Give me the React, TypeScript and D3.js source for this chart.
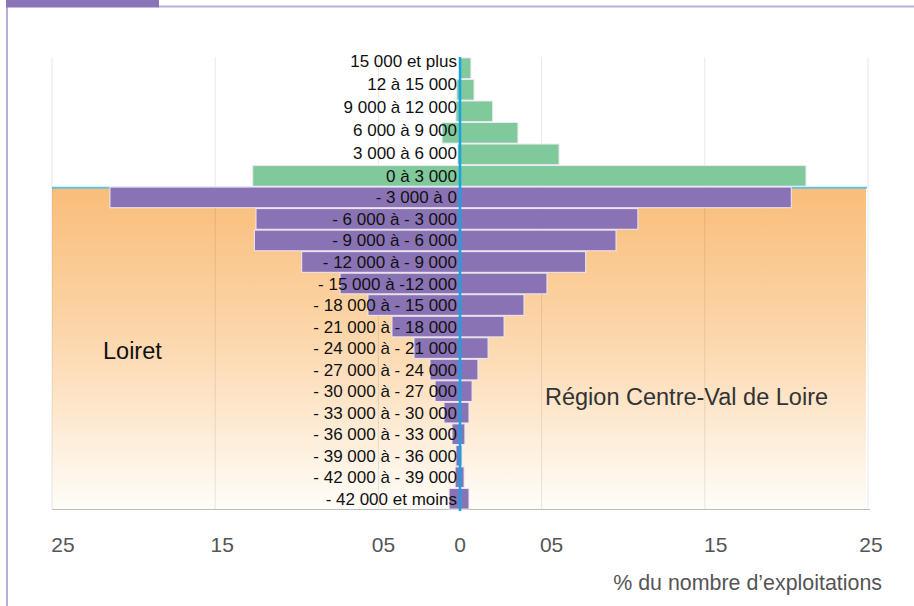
import React from "react";
import * as d3 from "d3";

const categories = [
  "15 000 et plus", "12 à 15 000", "9 000 à 12 000", "6 000 à 9 000", "3 000 à 6 000", "0 à 3 000",
  "- 3 000 à 0", "- 6 000 à - 3 000", "- 9 000 à - 6 000", "- 12 000 à - 9 000", "- 15 000 à -12 000",
  "- 18 000 à - 15 000", "- 21 000 à - 18 000", "- 24 000 à - 21 000", "- 27 000 à - 24 000",
  "- 30 000 à - 27 000", "- 33 000 à - 30 000", "- 36 000 à - 33 000", "- 39 000 à - 36 000",
  "- 42 000 à - 39 000", "- 42 000 et moins",
];
const loiret = [0, 0.2, 0.25, 1.1, 0.15, 12.7, 21.45, 12.5, 12.6, 9.7, 7.35, 5.64, 4.17, 2.82, 1.84, 1.53, 0.98, 0.49, 0.25, 0.3, 0.67];
const region = [0.67, 0.86, 2.0, 3.55, 6.07, 21.2, 20.3, 10.9, 9.56, 7.7, 5.33, 3.92, 2.7, 1.72, 1.1, 0.74, 0.55, 0.3, 0.12, 0.25, 0.55];
const positiveCount = 6;
const gridValues = [-25, -15, -5, 5, 15, 25];
const tickValues = [-25, -15, -5, 0, 5, 15, 25];
const tickLabels = ["25", "15", "05", "0", "05", "15", "25"];
const tickNudge = [11, 7, 5, 0, 10, 11, 3];

const W = 914, H = 606;
const GREEN = "#80c99b", PURPLE = "#8a73b4";

export default function App() {
  const x = d3.scaleLinear().domain([-25, 25]).range([52, 868]);
  const y = d3.scaleBand<string>().domain(categories).range([57.5, 509.5]).paddingInner(0.04).paddingOuter(0.02);
  const step = y.step();
  const negTop = (y(categories[positiveCount]) as number) - (step - y.bandwidth()) / 2 + 1;
  const x0 = x(0);
  const font = "'Liberation Sans', Arial, Helvetica, sans-serif";

  // label layout: positive categories are set on a slightly looser rhythm than the bars
  const posCats = categories.slice(0, positiveCount);
  const negCats = categories.slice(positiveCount);
  const lastPosCenter = (y(posCats[positiveCount - 1]) as number) + y.bandwidth() / 2;
  const labelPos = d3.scalePoint<string>().domain(posCats).range([lastPosCenter - 23 * (positiveCount - 1), lastPosCenter]);
  const labelY = (c: string, i: number) =>
    i < positiveCount ? (labelPos(c) as number) : (y(c) as number) + y.bandwidth() / 2;

  return (
    <svg width={W} height={H} style={{ position: "absolute", left: 0, top: 0, background: "#fff" }} fontFamily={font}>
      <defs>
        <linearGradient id="og" x1="0" y1="0" x2="0" y2="1">
          <stop offset="0" stopColor="#f9bd79" />
          <stop offset="0.45" stopColor="#fcd6aa" />
          <stop offset="1" stopColor="#fffdf9" />
        </linearGradient>
      </defs>
      {/* frame */}
      <rect x={6} y={0} width={2} height={H} fill="#bcaedb" />
      <rect x={158} y={5.5} width={W - 158} height={2} fill="#bcaedb" />
      <rect x={6} y={0} width={153} height={7.5} fill="#8a74b8" />

      {/* orange area for negative categories */}
      <rect x={x(-25)} y={negTop} width={x(25) - x(-25) - 2} height={509.5 - negTop} fill="url(#og)" />
      <line x1={x(-25)} x2={x(25) - 1} y1={negTop} y2={negTop} stroke="#5ec2ea" strokeWidth={2} />

      {/* gridlines */}
      {gridValues.map((v) => (
        <line key={v} x1={x(v)} x2={x(v)} y1={57} y2={509.5} stroke="#000" strokeOpacity={0.09} strokeWidth={1} />
      ))}
      <line x1={x(-25)} x2={x(25) + 2} y1={509.5} y2={509.5} stroke="#bdbdbd" strokeWidth={1.2} />

      {/* bars */}
      {categories.map((c, i) => {
        const col = i < positiveCount ? GREEN : PURPLE;
        const yy = y(c) as number;
        const h = y.bandwidth();
        return (
          <g key={c}>
            {loiret[i] > 0 && (
              <rect x={x(-loiret[i])} y={yy} width={x0 - x(-loiret[i])} height={h} fill={col} stroke="#eeeaf5" strokeWidth={1} />
            )}
            <rect x={x0} y={yy} width={x(region[i]) - x0} height={h} fill={col} stroke="#eeeaf5" strokeWidth={1} />
          </g>
        );
      })}

      {/* category labels */}
      {categories.map((c, i) => (
        <text key={c} x={x0 - 3} y={labelY(c, i) + 6} textAnchor="end" fontSize={17} fill="#111">
          {c}
        </text>
      ))}

      {/* center line */}
      <line x1={x0} x2={x0} y1={57} y2={511} stroke="#14a3e3" strokeWidth={2.5} />

      {/* series labels */}
      <text x={103} y={359} fontSize={23.5} fill="#111">Loiret</text>
      <text x={545} y={405} fontSize={23.5} fill="#333">Région Centre-Val de Loire</text>

      {/* tick labels */}
      {tickValues.map((v, i) => (
        <text key={i} x={x(v) + tickNudge[i]} y={552} textAnchor="middle" fontSize={21} fill="#555">
          {tickLabels[i]}
        </text>
      ))}
      <text x={882} y={590} textAnchor="end" fontSize={21.4} fill="#555">% du nombre d’exploitations</text>
    </svg>
  );
}
